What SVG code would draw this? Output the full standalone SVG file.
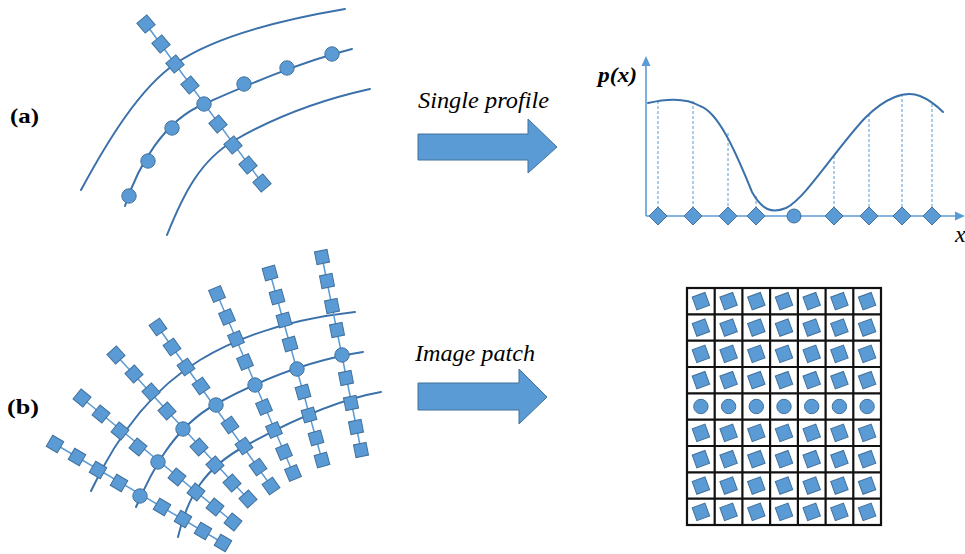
<svg xmlns="http://www.w3.org/2000/svg" xmlns:xlink="http://www.w3.org/1999/xlink" width="965" height="554" viewBox="0 0 965 554">
  <style>
    .curve { fill: none; stroke: #3b71aa; stroke-width: 2; stroke-linecap: round; }
    .spoke { fill: none; stroke: #5b9bd5; stroke-width: 1.5; }
    .axis { fill: none; stroke: #5b9bd5; stroke-width: 1.6; }
    .drop { fill: none; stroke: #5b9bd5; stroke-width: 1; stroke-dasharray: 3 2; }
    .mk { fill: #5b9bd5; stroke: #41719c; stroke-width: 1; }
    .arrow { fill: #5b9bd5; stroke: #41719c; stroke-width: 1; }
    .grid { fill: none; stroke: #111; stroke-width: 2.2; }
    text { font-family: "Liberation Serif", "DejaVu Serif", serif; fill: #000; }
  </style>
  <defs>
    <rect id="sq" x="-6.4" y="-6.4" width="12.8" height="12.8"/>
    <rect id="sqL" x="-6.5" y="-6.5" width="13" height="13"/>
    <rect id="sqG" x="-6.8" y="-6.8" width="13.6" height="13.6"/>
    <circle id="dot" r="7.2"/>
    <path id="dia" d="M0,-9 L9,0 0,9 -9,0Z"/>
  </defs>

  <!-- panel labels -->
  <text font-family="Liberation Serif, serif" x="10" y="123" font-size="21" font-weight="bold" textLength="29" lengthAdjust="spacingAndGlyphs">(a)</text>
  <text font-family="Liberation Serif, serif" x="7" y="414" font-size="21" font-weight="bold" textLength="32" lengthAdjust="spacingAndGlyphs">(b)</text>

  <!-- (a) profile sampled across three curves -->
  <g id="profile-curves">
    <path class="curve" d="M81,190 C108,140 140,88 175,64 C215,36 280,20 345,9"/>
    <path class="curve" d="M125,206 C138,165 165,120 204,104 C245,86 300,62 352,49"/>
    <path class="curve" d="M167,235 C183,195 200,160 235,140 C275,117 320,100 370,89"/>
  </g>
  <g id="profile-samples">
    <line class="spoke" x1="146" y1="24" x2="262" y2="183"/>
    <g class="mk">
      <use xlink:href="#sqL" transform="translate(146,24) rotate(50)"/>
      <use xlink:href="#sqL" transform="translate(161,44) rotate(50)"/>
      <use xlink:href="#sqL" transform="translate(175,64) rotate(50)"/>
      <use xlink:href="#sqL" transform="translate(190,85) rotate(50)"/>
      <use xlink:href="#sqL" transform="translate(218,124) rotate(50)"/>
      <use xlink:href="#sqL" transform="translate(233,145) rotate(50)"/>
      <use xlink:href="#sqL" transform="translate(248,165) rotate(50)"/>
      <use xlink:href="#sqL" transform="translate(262,183) rotate(50)"/>
      <use xlink:href="#dot" x="129" y="196"/>
      <use xlink:href="#dot" x="148" y="161"/>
      <use xlink:href="#dot" x="172" y="128"/>
      <use xlink:href="#dot" x="204" y="104"/>
      <use xlink:href="#dot" x="244" y="84"/>
      <use xlink:href="#dot" x="287" y="68"/>
      <use xlink:href="#dot" x="332" y="54"/>
    </g>
  </g>

  <!-- arrows with captions -->
  <g id="arrow-single">
    <text font-family="Liberation Serif, serif" x="418" y="108" font-size="23" font-style="italic" textLength="131" lengthAdjust="spacingAndGlyphs">Single profile</text>
    <path class="arrow" d="M418,134 H528 V119 L557,147 L528,173 V160 H418 Z"/>
  </g>
  <g id="arrow-patch">
    <text font-family="Liberation Serif, serif" x="415" y="361" font-size="24" font-style="italic" textLength="120" lengthAdjust="spacingAndGlyphs">Image patch</text>
    <path class="arrow" d="M418,383 H519 V369 L547,397 L519,424 V410 H418 Z"/>
  </g>

  <!-- intensity profile plot -->
  <g id="profile-plot">
    <line class="axis" x1="646" y1="216" x2="646" y2="64"/>
    <polygon fill="#5b9bd5" points="646,56 641.5,66 650.5,66"/>
    <line class="axis" x1="646" y1="216" x2="957" y2="216"/>
    <polygon fill="#5b9bd5" points="965,216 955,211.5 955,220.5"/>
    <g class="drop">
      <line x1="658" y1="101" x2="658" y2="216"/>
      <line x1="693" y1="101" x2="693" y2="216"/>
      <line x1="728" y1="133" x2="728" y2="216"/>
      <line x1="756" y1="196" x2="756" y2="216"/>
      <line x1="834" y1="156" x2="834" y2="216"/>
      <line x1="869" y1="114" x2="869" y2="216"/>
      <line x1="902" y1="94" x2="902" y2="216"/>
      <line x1="932" y1="104" x2="932" y2="216"/>
    </g>
    <path class="curve" d="M648,103 C665,99 685,97 700,106 C718,112 735,150 752,192 C762,210 772,214 786,208 C806,198 835,150 865,118 C885,98 905,90 920,96 C930,100 937,106 943,112"/>
    <g class="mk">
      <use xlink:href="#dia" x="658" y="216"/>
      <use xlink:href="#dia" x="693" y="216"/>
      <use xlink:href="#dia" x="728" y="216"/>
      <use xlink:href="#dia" x="756" y="216"/>
      <circle cx="794" cy="216" r="7"/>
      <use xlink:href="#dia" x="834" y="216"/>
      <use xlink:href="#dia" x="869" y="216"/>
      <use xlink:href="#dia" x="902" y="216"/>
      <use xlink:href="#dia" x="932" y="216"/>
    </g>
    <text font-family="Liberation Serif, serif" x="598" y="82" font-size="22" font-style="italic" font-weight="bold" textLength="39" lengthAdjust="spacingAndGlyphs">p(x)</text>
    <text font-family="Liberation Serif, serif" x="955" y="242" font-size="24" font-style="italic">x</text>
  </g>

  <!-- (b) patch sampled across three curves -->
  <g id="patch-curves">
    <path class="curve" d="M91,491 C115,440 150,390 200,360 C245,333 300,318 355,312"/>
    <path class="curve" d="M136,507 C150,475 172,428 216,404 C260,380 310,360 363,352"/>
    <path class="curve" d="M178,537 C188,495 205,468 245,446 C285,424 335,400 381,392"/>
  </g>
  <g id="patch-spokes">
    <line class="spoke" x1="55" y1="444" x2="223" y2="543"/>
    <line class="spoke" x1="82" y1="398" x2="233" y2="522"/>
    <line class="spoke" x1="116" y1="355" x2="248" y2="499"/>
    <line class="spoke" x1="158" y1="327" x2="271" y2="486"/>
    <line class="spoke" x1="217" y1="294" x2="293" y2="473"/>
    <line class="spoke" x1="270" y1="273" x2="322" y2="460"/>
    <line class="spoke" x1="322" y1="257" x2="361" y2="450"/>
  </g>
  <g id="patch-samples" class="mk">
    <!-- spoke 1 -->
    <use xlink:href="#sq" transform="translate(55,444) rotate(30.5)"/>
    <use xlink:href="#sq" transform="translate(77,457) rotate(30.5)"/>
    <use xlink:href="#sq" transform="translate(98,470) rotate(30.5)"/>
    <use xlink:href="#sq" transform="translate(119,483) rotate(30.5)"/>
    <use xlink:href="#dot" x="140" y="496"/>
    <use xlink:href="#sq" transform="translate(162,507) rotate(30.5)"/>
    <use xlink:href="#sq" transform="translate(183,519) rotate(30.5)"/>
    <use xlink:href="#sq" transform="translate(203,531) rotate(30.5)"/>
    <use xlink:href="#sq" transform="translate(223,543) rotate(30.5)"/>
    <!-- spoke 2 -->
    <use xlink:href="#sq" transform="translate(82,398) rotate(39.4)"/>
    <use xlink:href="#sq" transform="translate(101,414) rotate(39.4)"/>
    <use xlink:href="#sq" transform="translate(120,431) rotate(39.4)"/>
    <use xlink:href="#sq" transform="translate(138,447) rotate(39.4)"/>
    <use xlink:href="#dot" x="158" y="462"/>
    <use xlink:href="#sq" transform="translate(177,477) rotate(39.4)"/>
    <use xlink:href="#sq" transform="translate(196,492) rotate(39.4)"/>
    <use xlink:href="#sq" transform="translate(215,507) rotate(39.4)"/>
    <use xlink:href="#sq" transform="translate(233,522) rotate(39.4)"/>
    <!-- spoke 3 -->
    <use xlink:href="#sq" transform="translate(116,355) rotate(47.5)"/>
    <use xlink:href="#sq" transform="translate(134,374) rotate(47.5)"/>
    <use xlink:href="#sq" transform="translate(151,392) rotate(47.5)"/>
    <use xlink:href="#sq" transform="translate(167,411) rotate(47.5)"/>
    <use xlink:href="#dot" x="183" y="429"/>
    <use xlink:href="#sq" transform="translate(199,447) rotate(47.5)"/>
    <use xlink:href="#sq" transform="translate(215,465) rotate(47.5)"/>
    <use xlink:href="#sq" transform="translate(232,483) rotate(47.5)"/>
    <use xlink:href="#sq" transform="translate(248,499) rotate(47.5)"/>
    <!-- spoke 4 -->
    <use xlink:href="#sq" transform="translate(158,327) rotate(54.6)"/>
    <use xlink:href="#sq" transform="translate(172,347) rotate(54.6)"/>
    <use xlink:href="#sq" transform="translate(186,367) rotate(54.6)"/>
    <use xlink:href="#sq" transform="translate(201,386) rotate(54.6)"/>
    <use xlink:href="#dot" x="216" y="405"/>
    <use xlink:href="#sq" transform="translate(230,425) rotate(54.6)"/>
    <use xlink:href="#sq" transform="translate(244,446) rotate(54.6)"/>
    <use xlink:href="#sq" transform="translate(258,467) rotate(54.6)"/>
    <use xlink:href="#sq" transform="translate(271,486) rotate(54.6)"/>
    <!-- spoke 5 -->
    <use xlink:href="#sq" transform="translate(217,294) rotate(67)"/>
    <use xlink:href="#sq" transform="translate(227,317) rotate(67)"/>
    <use xlink:href="#sq" transform="translate(236,339) rotate(67)"/>
    <use xlink:href="#sq" transform="translate(245,362) rotate(67)"/>
    <use xlink:href="#dot" x="255" y="385"/>
    <use xlink:href="#sq" transform="translate(264,407) rotate(67)"/>
    <use xlink:href="#sq" transform="translate(274,430) rotate(67)"/>
    <use xlink:href="#sq" transform="translate(284,452) rotate(67)"/>
    <use xlink:href="#sq" transform="translate(293,473) rotate(67)"/>
    <!-- spoke 6 -->
    <use xlink:href="#sq" transform="translate(270,273) rotate(74.5)"/>
    <use xlink:href="#sq" transform="translate(277,297) rotate(74.5)"/>
    <use xlink:href="#sq" transform="translate(284,320) rotate(74.5)"/>
    <use xlink:href="#sq" transform="translate(290,344) rotate(74.5)"/>
    <use xlink:href="#dot" x="297" y="369"/>
    <use xlink:href="#sq" transform="translate(303,392) rotate(74.5)"/>
    <use xlink:href="#sq" transform="translate(309,415) rotate(74.5)"/>
    <use xlink:href="#sq" transform="translate(316,438) rotate(74.5)"/>
    <use xlink:href="#sq" transform="translate(322,460) rotate(74.5)"/>
    <!-- spoke 7 -->
    <use xlink:href="#sq" transform="translate(322,257) rotate(78.6)"/>
    <use xlink:href="#sq" transform="translate(327,281) rotate(78.6)"/>
    <use xlink:href="#sq" transform="translate(332,306) rotate(78.6)"/>
    <use xlink:href="#sq" transform="translate(337,330) rotate(78.6)"/>
    <use xlink:href="#dot" x="342" y="355"/>
    <use xlink:href="#sq" transform="translate(346,378) rotate(78.6)"/>
    <use xlink:href="#sq" transform="translate(351,403) rotate(78.6)"/>
    <use xlink:href="#sq" transform="translate(356,427) rotate(78.6)"/>
    <use xlink:href="#sq" transform="translate(361,450) rotate(78.6)"/>
  </g>

  <!-- resampled 7x9 patch -->
  <g id="patch-grid">
    <rect class="grid" x="687" y="288" width="194" height="237"/>
    <path class="grid" d="M714.7,288 V525 M742.4,288 V525 M770.1,288 V525 M797.9,288 V525 M825.6,288 V525 M853.3,288 V525
                          M687,314.3 H881 M687,340.7 H881 M687,367 H881 M687,393.3 H881 M687,419.7 H881 M687,446 H881 M687,472.3 H881 M687,498.7 H881"/>
    <g class="mk">
      <!-- rows 1-4 -->
      <g id="row1">
        <use xlink:href="#sqG" transform="translate(700.9,301.2) rotate(-20)"/>
        <use xlink:href="#sqG" transform="translate(728.6,301.2) rotate(-20)"/>
        <use xlink:href="#sqG" transform="translate(756.3,301.2) rotate(-20)"/>
        <use xlink:href="#sqG" transform="translate(784,301.2) rotate(-20)"/>
        <use xlink:href="#sqG" transform="translate(811.7,301.2) rotate(-20)"/>
        <use xlink:href="#sqG" transform="translate(839.4,301.2) rotate(-20)"/>
        <use xlink:href="#sqG" transform="translate(867.1,301.2) rotate(-20)"/>
      </g>
      <use xlink:href="#row1" y="26.33"/>
      <use xlink:href="#row1" y="52.67"/>
      <use xlink:href="#row1" y="79"/>
      <!-- centre row of dots -->
      <use xlink:href="#dot" x="700.9" y="406.5"/>
      <use xlink:href="#dot" x="728.6" y="406.5"/>
      <use xlink:href="#dot" x="756.3" y="406.5"/>
      <use xlink:href="#dot" x="784" y="406.5"/>
      <use xlink:href="#dot" x="811.7" y="406.5"/>
      <use xlink:href="#dot" x="839.4" y="406.5"/>
      <use xlink:href="#dot" x="867.1" y="406.5"/>
      <!-- rows 6-9 -->
      <use xlink:href="#row1" y="131.67"/>
      <use xlink:href="#row1" y="158"/>
      <use xlink:href="#row1" y="184.33"/>
      <use xlink:href="#row1" y="210.67"/>
    </g>
  </g>
</svg>
